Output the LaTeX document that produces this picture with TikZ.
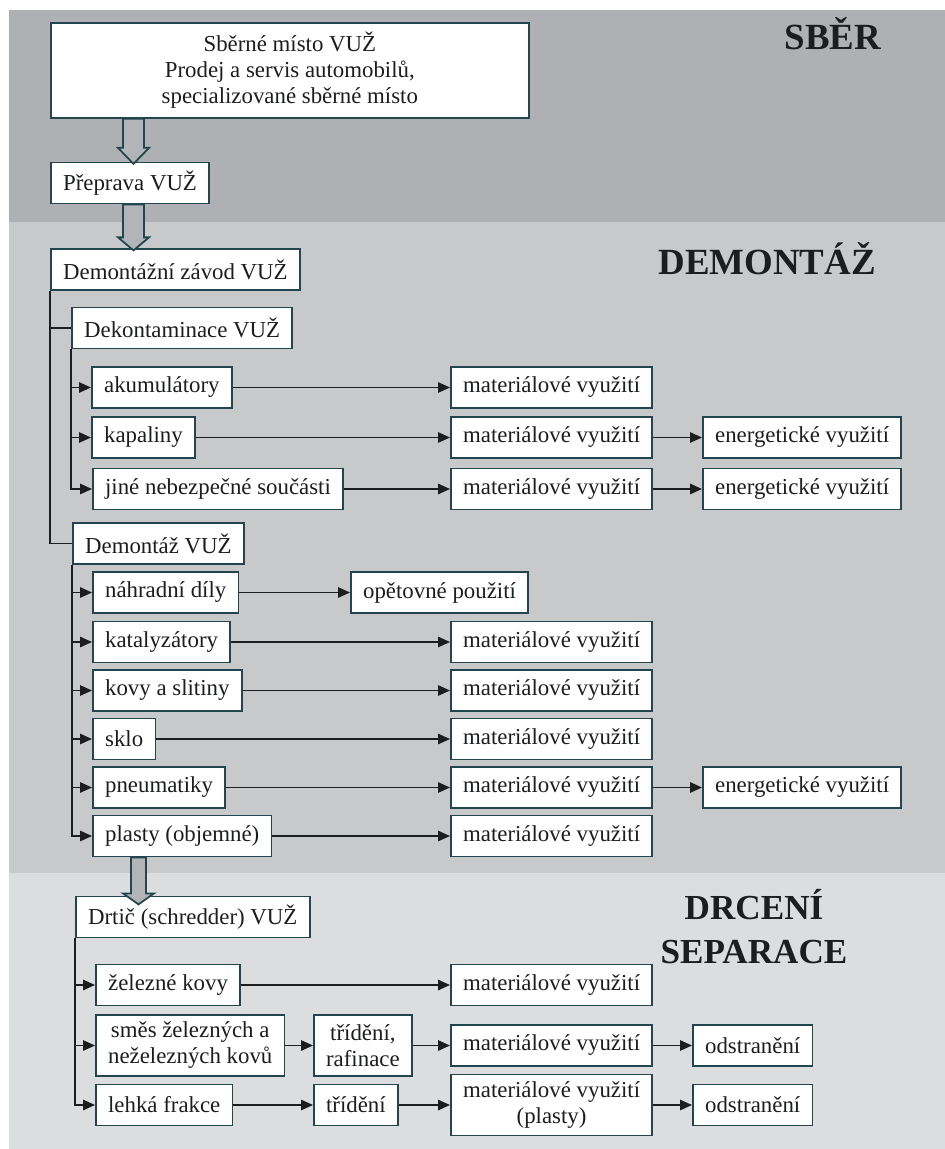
\documentclass[tikz,border=0pt]{standalone}
\usepackage{fontspec}
\setmainfont{Liberation Serif}
\usepackage{xcolor}
\usepackage{tikz}
\usetikzlibrary{arrows.meta,calc}
\definecolor{ink}{HTML}{1C1D1F}
\definecolor{boxline}{HTML}{22454F}
\definecolor{bandtop}{HTML}{AFB0B3}
\definecolor{bandmid}{HTML}{C8C9CB}
\definecolor{bandlow}{HTML}{DCDDDF}
\definecolor{hollowfill}{HTML}{B3B4B7}

\begin{document}
\begin{tikzpicture}[
  x=0.02cm, y=-0.02cm,
  every node/.style={font=\fontsize{13}{14.8}\selectfont, text=ink},
  box/.style={rectangle, draw=boxline, fill=white, line width=1pt,
    minimum height=8.2mm, inner xsep=2.45mm, anchor=west},
  tallbox/.style={box, align=center, minimum height=12.2mm},
  arr/.style={-{Triangle[length=2.4mm,width=2.1mm]}, draw=ink, line width=0.8pt},
  link/.style={draw=ink, line width=0.8pt},
  hollow/.style={draw=boxline, fill=hollowfill, line width=1pt},
  title/.style={font=\fontsize{21}{25}\selectfont\bfseries, align=center},
]
\useasboundingbox (0,0) rectangle (945,1149);
% bands
\fill[bandtop] (9,10) rectangle (945,222);
\fill[bandmid] (9,222) rectangle (945,873);
\fill[bandlow] (9,873) rectangle (945,1149);

\node[title, anchor=base] (tsber) at (833,50) {SBĚR};
\node[title, anchor=base] (tdemont) at (767,274) {DEMONTÁŽ};
\node[title, font=\fontsize{20}{25}\selectfont\bfseries] (tdrceni) at (754,927) {DRCENÍ\\SEPARACE};

\coordinate (colR) at (350,0);
\coordinate (colM) at (450,0);
\coordinate (colO) at (692,0);
\coordinate (colE) at (702,0);

% left column
\node[box, align=center, minimum width=9.56cm, minimum height=1.9cm] (sber) at (50,70.5)
  {Sběrné místo VUŽ\\Prodej a servis automobilů,\\specializované sběrné místo};
\node[box] (prep) at (50,183) {Přeprava VUŽ};
\node[box] (zavod) at (50,269.5) {Demontážní závod VUŽ};
\node[box] (dekont) at (71,328) {Dekontaminace VUŽ};
\node[box] (akum) at (91,387.5) {akumulátory};
\node[box] (kapal) at (91,437.5) {kapaliny};
\node[box] (jine) at (92,489) {jiné nebezpečné součásti};
\node[box] (demont) at (72,543.5) {Demontáž VUŽ};
\node[box] (dily) at (92,592.5) {náhradní díly};
\node[box] (katal) at (92,642) {katalyzátory};
\node[box] (kovy) at (92,690.5) {kovy a slitiny};
\node[box] (sklo) at (92,739) {sklo};
\node[box] (pneu) at (92,787.5) {pneumatiky};
\node[box] (plasty) at (92,836) {plasty (objemné)};
\node[box] (drtic) at (75,917) {Drtič (schredder) VUŽ};
\node[box] (zelkov) at (95,985) {železné kovy};
\node[tallbox] (smes) at (95,1045.5) {směs železných a\\neželezných kovů};
\node[box] (lehka) at (95,1105) {lehká frakce};
\node[tallbox] (trid1) at (313,1045.5) {třídění,\\rafinace};
\node[box] (trid2) at (313,1105) {třídění};

% outputs
\node[box] (mat1) at (akum -| colM) {materiálové využití};
\node[box] (mat2) at (kapal -| colM) {materiálové využití};
\node[box] (ener2) at (kapal -| colE) {energetické využití};
\node[box] (mat3) at (jine -| colM) {materiálové využití};
\node[box] (ener3) at (jine -| colE) {energetické využití};
\node[box] (opet) at (dily -| colR) {opětovné použití};
\node[box] (mat4) at (katal -| colM) {materiálové využití};
\node[box] (mat5) at (kovy -| colM) {materiálové využití};
\node[box] (mat6) at (sklo -| colM) {materiálové využití};
\node[box] (mat7) at (pneu -| colM) {materiálové využití};
\node[box] (ener7) at (pneu -| colE) {energetické využití};
\node[box] (mat8) at (plasty -| colM) {materiálové využití};
\node[box] (mat9) at (zelkov -| colM) {materiálové využití};
\node[box] (mat10) at (smes -| colM) {materiálové využití};
\node[box] (odst10) at (smes -| colO) {odstranění};
\node[tallbox] (mat11) at (lehka -| colM) {materiálové využití\\(plasty)};
\node[box] (odst11) at (lehka -| colO) {odstranění};

% hollow arrows
\draw[hollow] ($(sber.south west)+(73,0)$) -- ++(0,29) -- ++(-5,0) -- ++(15.5,16)
  -- ++(15.5,-16) -- ++(-5,0) -- ++(0,-29) -- cycle;
\draw[hollow] ($(prep.south west)+(73,0)$) -- ++(0,33) -- ++(-5,0) -- ++(15.5,13)
  -- ++(15.5,-13) -- ++(-5,0) -- ++(0,-33) -- cycle;
\draw[hollow] ($(plasty.south west)+(39,0)$) -- ++(0,36) -- ++(-8,0) -- ++(15.5,11)
  -- ++(15.5,-11) -- ++(-8,0) -- ++(0,-36) -- cycle;

% trunks
\draw[link] (zavod.south west) |- (dekont.west);
\draw[link] (zavod.south west) |- (demont.west);
\draw[arr] (dekont.south west) |- (akum.west);
\draw[arr] (dekont.south west) |- (kapal.west);
\draw[arr] (dekont.south west) |- (jine.west);
\draw[arr] (demont.south west) |- (dily.west);
\draw[arr] (demont.south west) |- (katal.west);
\draw[arr] (demont.south west) |- (kovy.west);
\draw[arr] (demont.south west) |- (sklo.west);
\draw[arr] (demont.south west) |- (pneu.west);
\draw[arr] (demont.south west) |- (plasty.west);
\draw[arr] (drtic.south west) |- (zelkov.west);
\draw[arr] (drtic.south west) |- (smes.west);
\draw[arr] (drtic.south west) |- (lehka.west);

% flows
\draw[arr] (akum) -- (mat1);
\draw[arr] (kapal) -- (mat2);
\draw[arr] (mat2) -- (ener2);
\draw[arr] (jine) -- (mat3);
\draw[arr] (mat3) -- (ener3);
\draw[arr] (dily) -- (opet);
\draw[arr] (katal) -- (mat4);
\draw[arr] (kovy) -- (mat5);
\draw[arr] (sklo) -- (mat6);
\draw[arr] (pneu) -- (mat7);
\draw[arr] (mat7) -- (ener7);
\draw[arr] (plasty) -- (mat8);
\draw[arr] (zelkov) -- (mat9);
\draw[arr] (smes) -- (trid1);
\draw[arr] (trid1) -- (mat10);
\draw[arr] (mat10) -- (odst10);
\draw[arr] (lehka) -- (trid2);
\draw[arr] (trid2) -- (mat11);
\draw[arr] (mat11) -- (odst11);
\end{tikzpicture}
\end{document}
